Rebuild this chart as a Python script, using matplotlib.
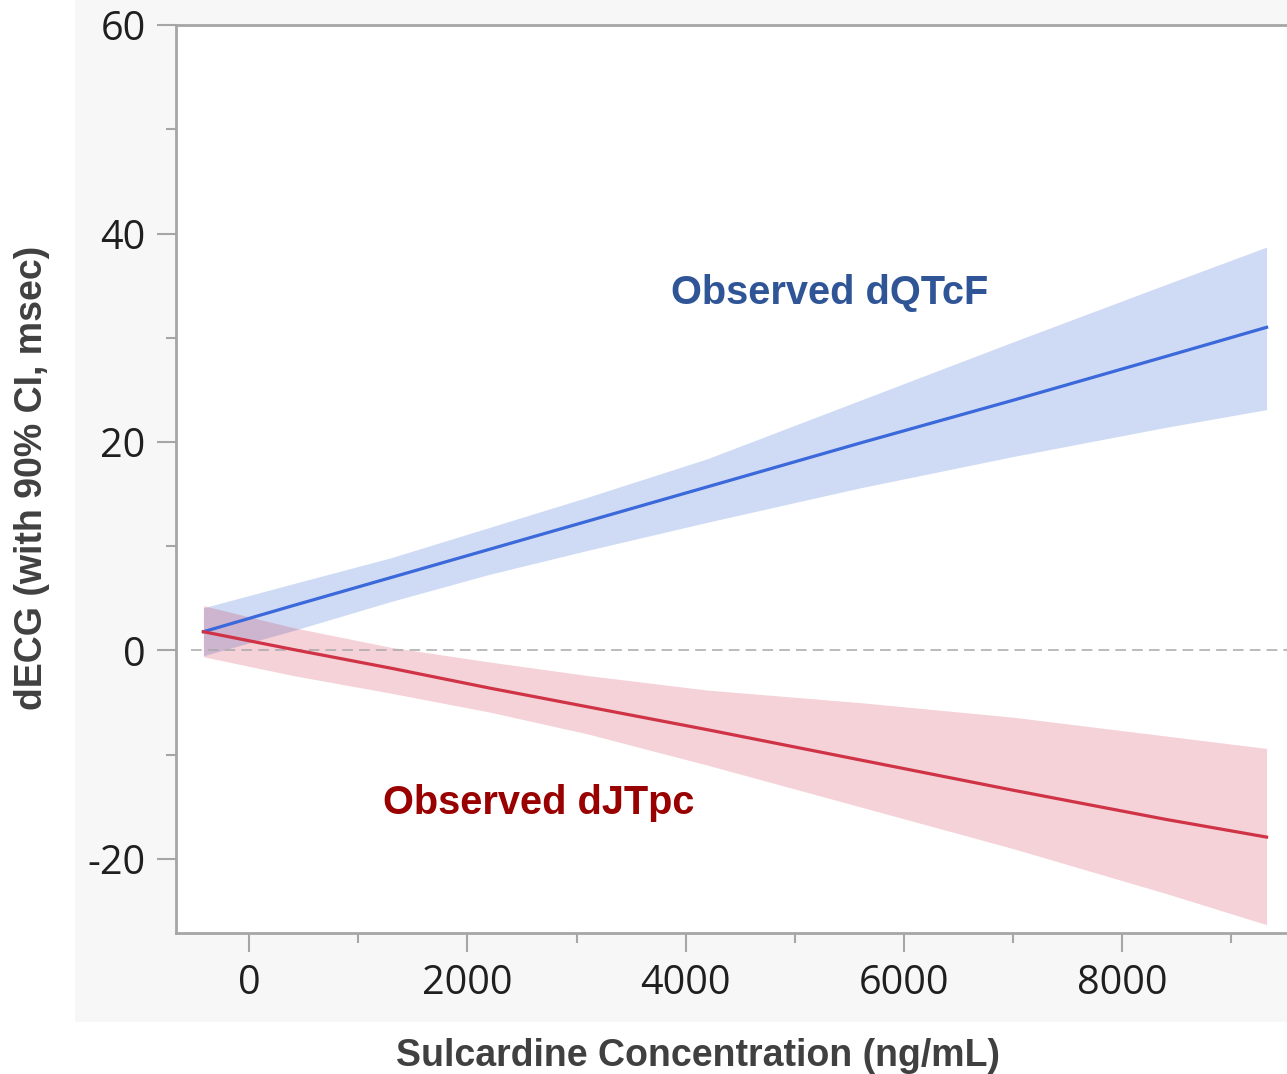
import matplotlib.pyplot as plt
from matplotlib.patches import Rectangle

plt.rcParams['axes.unicode_minus'] = False

conc = [-420, 400, 1300, 2200, 3100, 4200, 5600, 7000, 8400, 9325]

# dQTcF: fitted line and 90% CI
qtcf_fit = [1.8, 4.3, 7.0, 9.7, 12.4, 15.7, 19.9, 24.0, 28.2, 31.0]
qtcf_hi = [4.1, 6.4, 8.9, 11.8, 14.7, 18.4, 24.0, 29.6, 35.1, 38.7]
qtcf_lo = [-0.5, 1.9, 4.7, 7.3, 9.6, 12.3, 15.6, 18.6, 21.4, 23.1]

# dJTpc: fitted line and 90% CI
jtpc_fit = [1.8, 0.1, -1.7, -3.6, -5.4, -7.6, -10.5, -13.4, -16.2, -17.9]
jtpc_hi = [4.3, 2.2, 0.3, -1.1, -2.4, -3.8, -5.0, -6.4, -8.2, -9.4]
jtpc_lo = [-0.6, -2.4, -4.1, -5.9, -8.0, -11.0, -15.0, -19.0, -23.3, -26.3]

x_ticks = [0, 2000, 4000, 6000, 8000]
y_ticks = [-20, 0, 20, 40, 60]

fig = plt.figure(figsize=(12.87, 10.74), dpi=100)
fig.patch.set_facecolor('white')

# light grey panel behind the plot area
fig.patches.append(Rectangle((0.0583, 0.0484), 1.0, 1.0, transform=fig.transFigure,
                             facecolor='#F7F7F7', edgecolor='none', zorder=-5))

ax = fig.add_axes([0.1368, 0.1313, 0.8652, 0.8454])
ax.set_zorder(2)
ax.set_facecolor('white')

ax.fill_between(conc, qtcf_lo, qtcf_hi, color='#4373D7', alpha=0.25, linewidth=0)
ax.fill_between(conc, jtpc_lo, jtpc_hi, color='#CD324E', alpha=0.22, linewidth=0)
ax.plot(conc, qtcf_fit, color='#3B68DA', linewidth=2.3)
ax.plot(conc, jtpc_fit, color='#CF3345', linewidth=2.3)

# zero reference
ax.plot([-530, 9600], [0, 0], color='#A8A8A8', linewidth=1.1, linestyle=(0, (7, 4)), zorder=1)

ax.text(3870, 34.3, 'Observed dQTcF', color='#2F5597', fontsize=28.6, fontweight='bold',
        family='Liberation Sans', va='center', ha='left')
ax.text(1230, -14.6, 'Observed dJTpc', color='#990000', fontsize=28.6, fontweight='bold',
        family='Liberation Sans', va='center', ha='left')

ax.set_xlim(-671, 9536)
ax.set_ylim(-27.1, 60)

ax.set_xticks(x_ticks)
ax.set_yticks(y_ticks)
ax.set_xticks(range(1000, 9001, 2000), minor=True)
ax.set_yticks([-10, 10, 30, 50], minor=True)
ax.tick_params(axis='both', which='major', length=14, width=1.5, color='#A6A6A6',
               labelsize=28.5, labelcolor='#1F1F1F', pad=8)
ax.tick_params(axis='both', which='minor', length=7, width=1.5, color='#A6A6A6')
for lab in ax.get_xticklabels() + ax.get_yticklabels():
    lab.set_family('Open Sans')

for side in ['left', 'bottom', 'top']:
    ax.spines[side].set_color('#A6A6A6')
    ax.spines[side].set_linewidth(2)
ax.spines['right'].set_visible(False)

fig.text(0.542, 0.017, 'Sulcardine Concentration (ng/mL)', ha='center', va='center',
         fontsize=27, fontweight='bold', color='#404040', family='Liberation Sans')
fig.text(0.025, 0.555, 'dECG (with 90% CI, msec)', ha='center', va='center', rotation=90,
         fontsize=27, fontweight='bold', color='#404040', family='Liberation Sans')

fig.savefig('out.png', dpi=100)
